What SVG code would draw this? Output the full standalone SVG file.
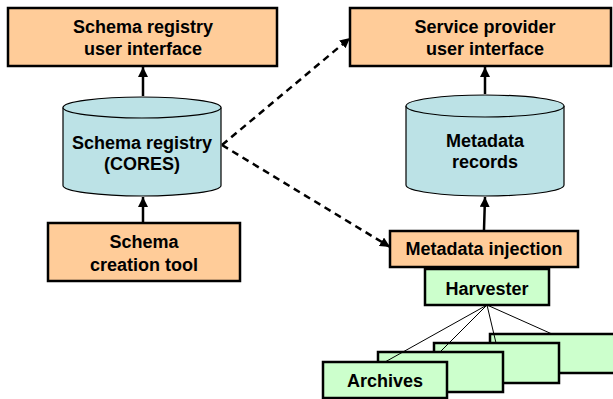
<svg xmlns="http://www.w3.org/2000/svg" width="613" height="399" viewBox="0 0 613 399">
<defs>
<marker id="ah" viewBox="0 0 10 10" refX="10" refY="5" markerWidth="10" markerHeight="10" markerUnits="userSpaceOnUse" orient="auto">
<path d="M0,0 L10,5 L0,10 Z" fill="#000"/>
</marker>
<style>
.box{fill:#FFCC99;stroke:#000;stroke-width:2.5}
.grn{fill:#CCFFCC;stroke:#000;stroke-width:2.5}
.cyl{fill:#BCE2E6;stroke:#000;stroke-width:1.2}
.t{font-family:"Liberation Sans",Arial,Helvetica,sans-serif;font-weight:bold;font-size:18px;text-anchor:middle;fill:#000}
.solid{stroke:#000;stroke-width:2.5;fill:none}
.dash{stroke:#000;stroke-width:2.5;fill:none;stroke-dasharray:7,5}
.thin{stroke:#000;stroke-width:1;fill:none}
</style>
</defs>
<rect width="613" height="399" fill="#fff"/>

<g id="archive4"><rect class="grn" x="490" y="334" width="125" height="39"/></g>
<g id="archive3"><rect class="grn" x="434" y="343" width="125" height="40"/></g>
<g id="archive2"><rect class="grn" x="378" y="352" width="125" height="40"/></g>
<g id="archives"><rect class="grn" x="323" y="362" width="124" height="36"/><text class="t" x="385" y="387">Archives</text></g>

<g id="schema-ui"><rect class="box" x="8" y="8" width="269" height="58"/><text class="t" x="143" y="33">Schema registry</text><text class="t" x="143" y="55">user interface</text></g>
<g id="sp-ui"><rect class="box" x="350" y="8" width="261" height="58"/><text class="t" x="485" y="33">Service provider</text><text class="t" x="485" y="55">user interface</text></g>

<g id="cores">
<path class="cyl" d="M63,107.5 L63,185.5 A79,10.5 0 0 0 221,185.5 L221,107.5"/>
<ellipse class="cyl" cx="142" cy="107.5" rx="79" ry="10.5"/>
<text class="t" x="142" y="149">Schema registry</text><text class="t" x="142" y="170">(CORES)</text>
</g>
<g id="metadata-records">
<path class="cyl" d="M406,106 L406,185 A79,11 0 0 0 564,185 L564,106"/>
<ellipse class="cyl" cx="485" cy="106" rx="79" ry="11"/>
<text class="t" x="485" y="147">Metadata</text><text class="t" x="485" y="168">records</text>
</g>

<g id="schema-tool"><rect class="box" x="48" y="223" width="192" height="58"/><text class="t" x="144" y="248">Schema</text><text class="t" x="144" y="271">creation tool</text></g>
<g id="injection"><rect class="box" x="390" y="231" width="188" height="36"/><text class="t" x="484" y="255">Metadata injection</text></g>
<g id="harvester"><rect class="grn" x="425" y="269" width="124" height="36"/><text class="t" x="487" y="295">Harvester</text></g>

<g id="connectors">
<line class="solid" x1="143" y1="96" x2="143" y2="67" marker-end="url(#ah)"/>
<line class="solid" x1="143" y1="222" x2="143" y2="197" marker-end="url(#ah)"/>
<line class="solid" x1="485" y1="94" x2="485" y2="67" marker-end="url(#ah)"/>
<line class="solid" x1="484" y1="230" x2="485" y2="197" marker-end="url(#ah)"/>
<line class="dash" x1="222" y1="145" x2="350" y2="38" marker-end="url(#ah)"/>
<line class="dash" x1="222" y1="145" x2="390" y2="247" marker-end="url(#ah)"/>
<line class="thin" x1="487" y1="305" x2="385" y2="362"/>
<line class="thin" x1="487" y1="305" x2="440" y2="352"/>
<line class="thin" x1="487" y1="305" x2="496" y2="343"/>
<line class="thin" x1="487" y1="305" x2="552" y2="334"/>
</g>
</svg>
